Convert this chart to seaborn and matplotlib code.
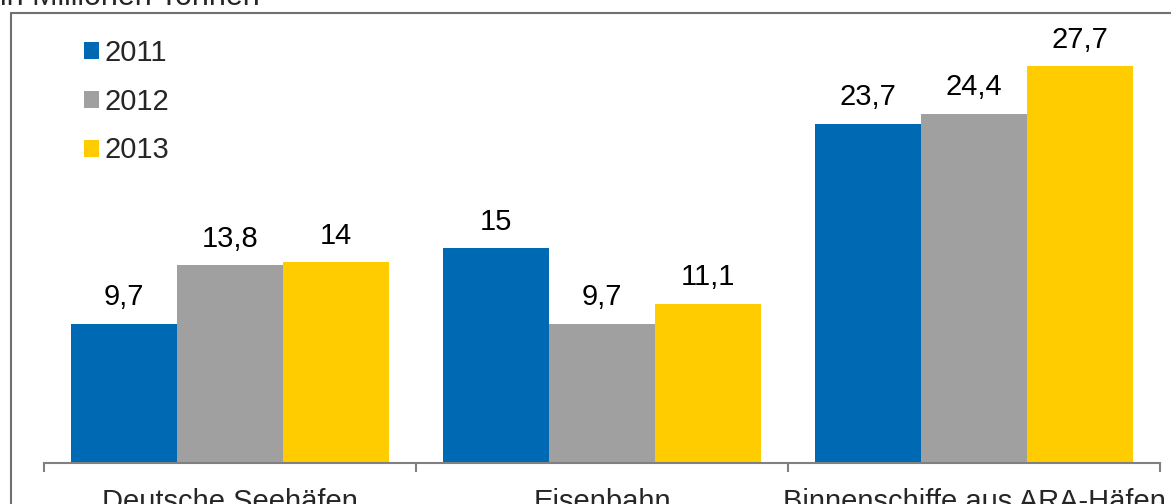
import pandas as pd
import matplotlib.pyplot as plt
import seaborn as sns
from matplotlib.lines import Line2D

# Data (in Millionen Tonnen)
categories = ["Deutsche Seehäfen", "Eisenbahn", "Binnenschiffe aus ARA-Häfen"]
years = ["2011", "2012", "2013"]
values_2011 = [9.7, 15, 23.7]
values_2012 = [13.8, 9.7, 24.4]
values_2013 = [14, 11.1, 27.7]
colors = ["#0069B4", "#A0A0A0", "#FFCC00"]

df = pd.DataFrame({
    "Kategorie": categories * 3,
    "Jahr": [y for y in years for _ in categories],
    "Wert": values_2011 + values_2012 + values_2013,
})

sns.set_style("white")
plt.rcParams["font.family"] = ["Liberation Sans", "DejaVu Sans"]
FS = 21

W, H = 1171, 504
fig = plt.figure(figsize=(W / 100, H / 100), dpi=100)
ax = fig.add_axes([44 / W, (H - 462.5) / H, (1160 - 44) / W, (462.5 - 13) / H])

sns.barplot(data=df, x="Kategorie", y="Wert", hue="Jahr", hue_order=years,
            palette=colors, saturation=1, width=0.855, linewidth=0, ax=ax)

for c in ax.containers:
    ax.bar_label(c, labels=[f"{v:g}".replace(".", ",") for v in c.datavalues],
                 padding=9, fontsize=FS, color="black")

ax.set_xlim(-0.5, 2.5)
ax.set_ylim(0, (462.5 - 13) / 14.3)
ax.set_xlabel("")
ax.set_ylabel("")
ax.set_yticks([])
for s in ["top", "right", "left"]:
    ax.spines[s].set_visible(False)
ax.spines["bottom"].set_color("#808080")
ax.spines["bottom"].set_linewidth(1.5)

ax.set_xticks(range(len(categories)))
ax.set_xticklabels(categories, fontsize=FS)
ax.set_xticks([-0.5, 0.5, 1.5, 2.5], minor=True)
ax.tick_params(axis="x", which="major", length=0, pad=18)
ax.tick_params(axis="x", which="minor", length=6.5, width=1.5, color="#808080",
               direction="out", bottom=True)

leg = ax.legend(loc="upper left", bbox_to_anchor=(84 / W, 1 - 39 / H),
                bbox_transform=fig.transFigure, frameon=False, fontsize=FS,
                handlelength=0.52, handleheight=0.52, handletextpad=0.18,
                labelspacing=0.71, borderpad=0, borderaxespad=0)

# frame of the original chart area (cut off at right and bottom)
fig.add_artist(Line2D([11 / W, 11 / W], [0, 1 - 13 / H], color="#707070",
                      lw=1.5, transform=fig.transFigure))
fig.add_artist(Line2D([11 / W, 1], [1 - 13 / H, 1 - 13 / H], color="#707070",
                      lw=1.5, transform=fig.transFigure))

fig.text(0, 1 - 5 / H, "in Millionen Tonnen", fontsize=22, ha="left",
         va="baseline")

fig.savefig("out.png", dpi=100)
